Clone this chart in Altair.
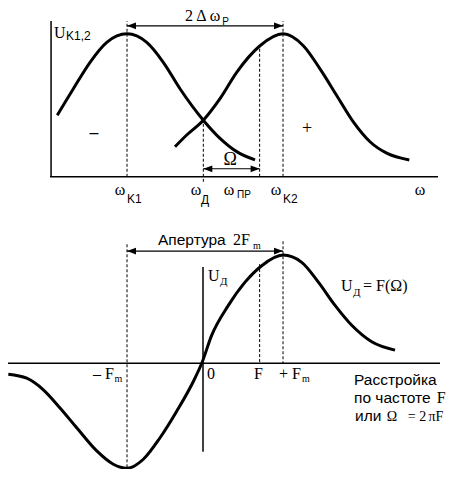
import altair as alt
import pandas as pd

# ---------------- data (x in units where wK1=-1, wK2=+1 ; -Fm=-1, +Fm=+1) -------------
res1_w = [-1.894, -1.688, -1.474, -1.260, -1.0, -0.747, -0.535, -0.321, -0.022, 0.192, 0.406, 0.641]
res1_u = [0.431, 0.616, 0.801, 0.940, 1.0, 0.940, 0.801, 0.616, 0.396, 0.269, 0.176, 0.118]
res2_w = [-0.385, -0.235, -0.022, 0.192, 0.406, 0.705, 1.0, 1.260, 1.474, 1.688, 1.901, 2.115, 2.329, 2.619]
res2_u = [0.210, 0.292, 0.396, 0.547, 0.731, 0.917, 1.0, 0.917, 0.755, 0.569, 0.384, 0.245, 0.165, 0.118]
disc_f = [-2.522, -2.286, -2.073, -1.859, -1.645, -1.388, -1.176, -1.0, -0.791, -0.577, -0.363,
          -0.150, -0.042, 0.086, 0.299, 0.513, 0.727, 1.0, 1.240, 1.453, 1.667, 1.881, 2.137, 2.436]
disc_u = [-0.101, -0.138, -0.245, -0.413, -0.596, -0.810, -0.933, -0.97, -0.887, -0.688, -0.443,
          -0.168, 0.0, 0.260, 0.535, 0.750, 0.902, 1.0, 0.933, 0.750, 0.535, 0.351, 0.199, 0.122]

w_k1, w_k2, w_d, w_pr = -1.0, 1.0, -0.022, 0.7
f_m, f_sig = 1.0, 0.7

X_DOM = [-2.526, 3.115]
TOP_DOM = [-2.045, 1.181]
BOT_DOM = [-0.977, 3.284]

SERIF = "Liberation Serif"
SANS = "Liberation Sans"


def xs():
    return alt.X("x:Q", scale=alt.Scale(domain=X_DOM, nice=False, zero=False), axis=None)


def ys(dom):
    return alt.Y("y:Q", scale=alt.Scale(domain=dom, nice=False, zero=False), axis=None)


def rules(rows, dom, width=1.0, dash=None):
    df = pd.DataFrame(rows, columns=["x", "y", "x2", "y2"])
    kw = dict(color="black", strokeWidth=width)
    if dash:
        kw["strokeDash"] = dash
    return alt.Chart(df).mark_rule(**kw).encode(
        x=xs(), y=ys(dom), x2="x2:Q", y2="y2:Q")


HEAD_R = "M0,0L-2,-0.75L-2,0.75Z"
HEAD_L = "M0,0L2,-0.75L2,0.75Z"


def heads(rows, dom, shape):
    df = pd.DataFrame(rows, columns=["x", "y"])
    return alt.Chart(df).mark_point(shape=shape, filled=True, size=81, color="black",
                                    opacity=1, strokeWidth=0).encode(x=xs(), y=ys(dom))


def texts(rows, dom, font, size, align="left", baseline="alphabetic", style=None):
    df = pd.DataFrame(rows, columns=["x", "y", "t"])
    kw = dict(font=font, fontSize=size, align=align, baseline=baseline, color="black")
    if style:
        kw["fontStyle"] = style
    return alt.Chart(df).mark_text(**kw).encode(x=xs(), y=ys(dom), text="t:N")


def curve(xv, yv, dom, name):
    df = pd.DataFrame({"x": xv, "y": yv, "c": name})
    return alt.Chart(df).mark_line(color="black", strokeWidth=3, interpolate="monotone").encode(
        x=xs(), y=ys(dom), detail="c:N")


# ---------------- top panel: resonance curves ----------------
T = TOP_DOM
top = alt.layer(
    rules([[-1.974, 0, -1.974, 1.09], [-1.987, 0, 2.987, 0]], T, width=1.5),
    rules([[w_k1, 0, w_k1, 1.09], [w_k2, 0, w_k2, 1.09], [w_d, -0.035, w_d, 0.396],
           [w_pr, 0, w_pr, 0.91]], T, width=1, dash=[3, 2]),
    rules([[w_k1, 1.056, w_k2, 1.056], [w_d, 0.056, w_pr, 0.056]], T, width=1.2),
    heads([[w_k2, 1.056], [w_pr, 0.056]], T, HEAD_R),
    heads([[w_k1, 1.056], [w_d, 0.056]], T, HEAD_L),
    curve(res1_w, res1_u, T, "k1"),
    curve(res2_w, res2_u, T, "k2"),
    texts([[-0.256, 1.090, "2\u2009Δ\u2009ω"]], T, SERIF, 16),
    texts([[-1.936, 0.972, "U"]], T, SERIF, 16),
    texts([[0.22, 1.062, "P"]], T, SANS, 10),
    texts([[-1.782, 0.958, "K1,2"], [-1.0, -0.181, "K1"], [1.0, -0.181, "K2"],
           [-0.051, -0.194, "Д"]], T, SANS, 12),
    texts([[0.41, -0.146, "ПР"]], T, SANS, 10),
    texts([[-1.090, -0.125, "ω"], [-0.115, -0.125, "ω"], [0.308, -0.125, "ω"],
           [0.910, -0.125, "ω"], [2.756, -0.125, "ω"]],
          T, SERIF, 16, align="center"),
    texts([[0.321, 0.083, "Ω"]], T, SERIF, 18, align="center"),
    texts([[-1.423, 0.306, "–"]], T, SANS, 16, align="center", baseline="middle"),
    texts([[1.308, 0.333, "+"]], T, SERIF, 18, align="center", baseline="middle"),
)

# ---------------- bottom panel: discriminator characteristic ----------------
B = BOT_DOM
bottom = alt.layer(
    rules([[X_DOM[0], 0, 3.013, 0], [-0.026, 0.89, -0.026, -0.817]], B, width=1.5),
    rules([[-f_m, 1.10, -f_m, -0.972], [f_m, 1.128, f_m, 0], [f_sig, 0.917, f_sig, 0]],
          B, width=1, dash=[3, 2]),
    rules([[-f_m, 1.037, f_m, 1.037]], B, width=1.2),
    heads([[f_m, 1.037]], B, HEAD_R),
    heads([[-f_m, 1.037]], B, HEAD_L),
    curve(disc_f, disc_u, B, "d"),
    texts([[-0.603, 1.092, "Апертура"], [1.91, -0.202, "Расстройка"],
           [1.91, -0.367, "по частоте"], [1.923, -0.532, "или"]], B, SANS, 15.5),
    texts([[0.359, 1.092, "2F"], [0.038, 0.761, "U"], [1.744, 0.670, "U"],
           [2.026, 0.670, "= F(Ω)"], [-1.436, -0.147, "– F"], [0.026, -0.147, "0"],
           [0.628, -0.147, "F"], [0.949, -0.147, "+ F"], [2.97, -0.367, "F"]],
          B, SERIF, 16),
    texts([[0.615, 1.055, "m"], [-1.160, -0.174, "m"], [1.244, -0.174, "m"]], B, SERIF, 10),
    texts([[0.192, 0.725, "Д"], [1.897, 0.624, "Д"]], B, SERIF, 11),
    texts([[2.33, -0.532, "Ω"], [2.60, -0.532, "= 2"], [2.865, -0.532, "πF"]], B, SERIF, 14),
)

chart = alt.layer(top, bottom).resolve_scale(y="independent").properties(
    width=440, height=461, padding=0,
    autosize=alt.AutoSizeParams(type="none"),
).configure_view(stroke=None)
chart.save("out.html", embed_options={"renderer": "svg", "actions": False})
